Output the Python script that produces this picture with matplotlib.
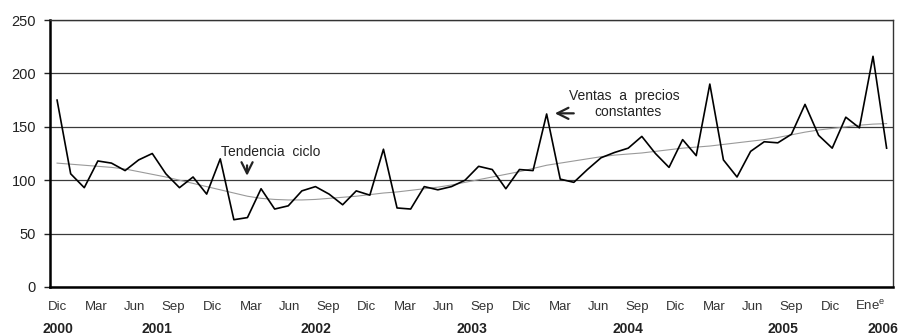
"""
Ventas a precios constantes y tendencia-ciclo, Dic 2000 - Ene 2006.
"""
import numpy as np
import matplotlib.pyplot as plt
import matplotlib.transforms as mtransforms

plt.rcParams["font.family"] = ["Liberation Sans", "DejaVu Sans"]

# ── datos mensuales (Dic 2000 … Ene 2006, 62 meses) ──────────────
ventas = [175, 106, 93, 118, 116, 109, 119, 125, 106, 93, 103, 87,
          120, 63, 65, 92, 73, 76, 90, 94, 87, 77, 90, 86,
          129, 74, 73, 94, 91, 94, 100, 113, 110, 92, 110, 109,
          162, 101, 98, 110, 121, 126, 130, 141, 125, 112, 138, 123,
          190, 119, 103, 127, 136, 135, 143, 171, 142, 130, 159, 149,
          216, 130]
tendencia = [116, 115, 114, 113, 112, 110.5, 108, 105.5, 103, 100, 97, 94,
             91, 88, 85, 83, 82, 81.5, 81.5, 82, 83, 84, 85, 86.5,
             88, 89, 90.5, 92, 93.5, 95.5, 98, 100.5, 103, 105.5, 108, 111,
             114, 116, 118, 120, 122, 123.5, 124.5, 125.5, 127, 128.5, 130, 131,
             132, 133.5, 135, 136.5, 138, 140, 142.5, 145, 147, 148.5, 150, 151.5,
             152.5, 153]
meses = ["Dic", "Mar", "Jun", "Sep"] * 5 + ["Dic", "Ene$^{\\mathregular{e}}$"]
anios = ["2000", "2001", "2002", "2003", "2004", "2005", "2006"]

t = np.arange(len(ventas))

fig = plt.figure(figsize=(9, 3.36), dpi=100)
ax = fig.add_axes([50 / 900, 49 / 336, 843 / 900, 267 / 336])

ax.plot(t, tendencia, color="#9a9a9a", lw=0.8, zorder=2)
ax.plot(t, ventas, color="black", lw=1.2, zorder=3)

ax.set_xlim(-0.52, 61.47)
ax.set_ylim(0, 250)
ax.set_yticks(np.arange(0, 251, 50))
ax.yaxis.grid(True, color="#3a3a3a", lw=0.9)
ax.set_axisbelow(True)
ax.tick_params(axis="y", length=4, width=1, pad=6, labelsize=10.5, colors="#222")
ax.set_xticks([])

trans = mtransforms.blended_transform_factory(ax.transData, ax.transAxes)
# etiquetas de mes: rejilla propia del original (algo más apretada que los datos)
lab_x = list(np.arange(21) * 2.84 + 0.05) + [59.8]
for x, m in zip(lab_x, meses):
    ax.text(x, -0.086, m, transform=trans, ha="center", va="baseline",
            fontsize=9.5, color="#333")
anio_x = [0.1, 7.35, 19.0, 30.5, 42.0, 53.4, 60.7]
for x, a in zip(anio_x, anios):
    ax.text(x, -0.174, a, transform=trans, ha="center", va="baseline",
            fontsize=10, fontweight="bold", color="#222")

for s in ["left", "bottom"]:
    ax.spines[s].set_linewidth(1.8)
for s in ["top", "right"]:
    ax.spines[s].set_linewidth(1.0)
    ax.spines[s].set_color("#333")

# anotaciones
ax.text(15.7, 122.9, "Tendencia  ciclo", ha="center", va="baseline",
        fontsize=10, color="#222")
ax.annotate("", xy=(13.97, 101.5), xytext=(13.97, 116.5),
            arrowprops=dict(arrowstyle="->", lw=1.6, color="#222",
                            mutation_scale=20))
ax.text(41.7, 175.1, "Ventas  a  precios", ha="center", va="baseline",
        fontsize=10, color="#222")
ax.text(42.0, 160.1, "constantes", ha="center", va="baseline",
        fontsize=10, color="#222")
ax.annotate("", xy=(36.4, 162.6), xytext=(38.2, 162.6),
            arrowprops=dict(arrowstyle="->", lw=1.6, color="#222",
                            mutation_scale=20))

plt.savefig("out.png", dpi=100)
